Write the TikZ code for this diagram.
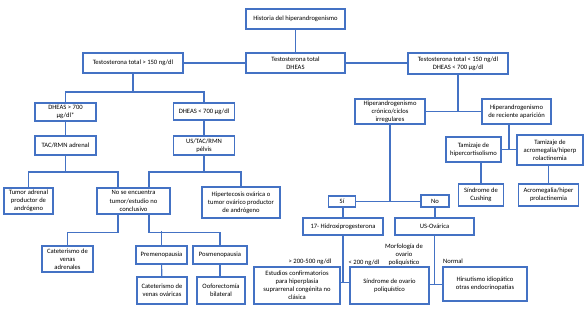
\documentclass[tikz,border=0pt]{standalone}
\usepackage{fontspec}
\setmainfont{Carlito}
\definecolor{boxblue}{RGB}{68,114,196}
\begin{document}
\begin{tikzpicture}[x=1pt,y=-1pt,
  box/.style={draw=boxblue,line width=1.1pt,fill=white,inner sep=0pt,align=center,
    font=\fontsize{6.6}{8.1}\selectfont,text=black},
  lab/.style={inner sep=0pt,align=center,font=\fontsize{6.6}{8.1}\selectfont,text=black},
  conn/.style={draw=boxblue,line width=1.1pt}]
\useasboundingbox[fill=white] (0,0) rectangle (586,308);
% nodes
\node[box,minimum width=99,minimum height=20] (hist) at (295.5,19) {Historia del hiperandrogenismo};
\node[box,minimum width=99,minimum height=20] (tt) at (295.5,63) {Testosterona total\\DHEAS};
\node[box,minimum width=100,minimum height=20] (tg) at (133,63) {Testosterona total > 150 ng/dl};
\node[box,minimum width=100,minimum height=21] (tl) at (458,63.5) {Testosterona total < 150 ng/dl\\DHEAS < 700 µg/dl};
\node[box,minimum width=61,minimum height=18] (d1) at (65.5,112) {DHEAS > 700\\µg/dl*};
\node[box,minimum width=61,minimum height=17] (d2) at (204,111.5) {DHEAS < 700 µg/dl};
\node[box,minimum width=61,minimum height=19] (tac) at (65.5,145.5) {TAC/RMN adrenal};
\node[box,minimum width=61,minimum height=19] (us) at (204,145.5) {US/TAC/RMN\\pélvis};
\node[box,minimum width=49,minimum height=26] (tumor) at (28.5,201) {Tumor adrenal\\productor de\\andrógeno};
\node[box,minimum width=73,minimum height=26] (nose) at (133.5,201) {No se encuentra\\tumor/estudio no\\conclusivo};
\node[box,minimum width=78,minimum height=31] (hiper) at (241,202.5) {Hipertecosis ovárica o\\tumor ovárico productor\\de andrógeno};
\node[box,minimum width=51,minimum height=26] (catad) at (67.5,259) {Cateterismo de\\venas\\adrenales};
\node[box,minimum width=51,minimum height=18] (pre) at (161.5,255) {Premenopausia};
\node[box,minimum width=54,minimum height=18] (pos) at (220,255) {Posmenopausia};
\node[box,minimum width=50,minimum height=27] (catov) at (162,290.5) {Cateterismo de\\venas ováricas};
\node[box,minimum width=48,minimum height=27] (oof) at (221,290.5) {Ooforectomía\\bilateral};
\node[box,minimum width=70,minimum height=25] (hc) at (390,111.5) {Hiperandrogenismo\\crónico/ciclos\\irregulares};
\node[box,minimum width=69,minimum height=25] (hr) at (516.5,111.5) {Hiperandrogenismo\\de reciente aparición};
\node[box,minimum width=55,minimum height=25] (tzh) at (473.5,149.5) {Tamizaje de\\hipercortisolismo};
\node[box,minimum width=66,minimum height=30] (tza) at (550,150) {Tamizaje de\\acromegalia/hiperp\\rolactinemia};
\node[box,minimum width=45,minimum height=22] (cush) at (481,195) {Síndrome de\\Cushing};
\node[box,minimum width=60,minimum height=22] (acro) at (548.5,195) {Acromegalia/hiper\\prolactinemia};
\node[box,minimum width=27,minimum height=11] (si) at (342,201.5) {Sí};
\node[box,minimum width=28,minimum height=12] (no) at (435,201) {No};
\node[box,minimum width=80,minimum height=17] (hid) at (343,226.5) {17- Hidroxiprogesterona};
\node[box,minimum width=79,minimum height=17] (uso) at (434.5,226.5) {US-Ovárica};
\node[box,minimum width=86,minimum height=37] (est) at (297,285.5) {Estudios confirmatorios\\para hiperplasia\\suprarrenal congénita no\\clásica};
\node[box,minimum width=79,minimum height=37] (sop) at (389.5,285.5) {Síndrome de ovario\\poliquístico};
\node[box,minimum width=84,minimum height=34] (hir) at (485,284) {Hirsutismo idiopático\\otras endocrinopatías};
% labels
\node[lab] (l1) at (310,262) {> 200-500 ng/dl};
\node[lab] (l2) at (364,262.5) {< 200 ng/dl};
\node[lab] (l3) at (404,254.5) {Morfología de\\ovario\\poliquístico};
\node[lab] (l4) at (453,261.5) {Normal};
% junctions
\coordinate (j1) at (133,92);
\coordinate (j2) at (65.5,172);
\coordinate (j3) at (204,172);
\coordinate (jr) at (509,150);
% connectors
\draw[conn] (hist) -- (tt);
\draw[conn] (tt.west) -- (tg.east);
\draw[conn] (tt.east) -- (tt.east -| tl.west);
\draw[conn] (tg.south) -- (j1);
\draw[conn] (d1.north) |- (j1) -| (d2.north);
\draw[conn] (d1) -- (tac);
\draw[conn] (d2) -- (us);
\draw[conn] (tac.south) -- (j2);
\draw[conn] (tumor.north) |- (j2) -| ([xshift=-15.5pt]nose.north);
\draw[conn] (us.south) -- (j3);
\draw[conn] ([xshift=15.5pt]nose.north) |- (j3) -| (hiper.north);
\draw[conn] ([xshift=-15.5pt]nose.south) -- ++(0,18) -| (catad.north);
\draw[conn] ([xshift=15.5pt]nose.south) -- ++(0,18) -| (pos.north);
\draw[conn] (pre.north) -- ++(0,-14);
\draw[conn] (pre) -- (catov);
\draw[conn] (pos.south) -- (pos.south |- oof.north);
\draw[conn] (hc.east) -- (hr.west);
\draw[conn] (tl.south) -- (tl.south |- hc.east);
\draw[conn] (tzh.east) -- (tzh.east -| tza.west);
\draw[conn] (jr) -- (jr |- hr.south);
\draw[conn] (cush.north) -- (cush.north |- tzh.south);
\draw[conn] (acro.north) -- (acro.north |- tza.south);
\draw[conn] (si.east) -- (si.east -| no.west);
\draw[conn] (hc.south) -- (hc.south |- si.east);
\draw[conn] (hid.north) -- (hid.north |- si.south);
\draw[conn] (no.south) -- (no.south |- uso.north);
\draw[conn] (hid.south) -- ++(0,47) coordinate (jh);
\draw[conn] (jh -| est.east) -- (jh -| sop.west);
\draw[conn] (uso.south) -- ++(0,49) coordinate (ju);
\draw[conn] (ju -| sop.east) -- (ju -| hir.west);
\end{tikzpicture}
\end{document}
